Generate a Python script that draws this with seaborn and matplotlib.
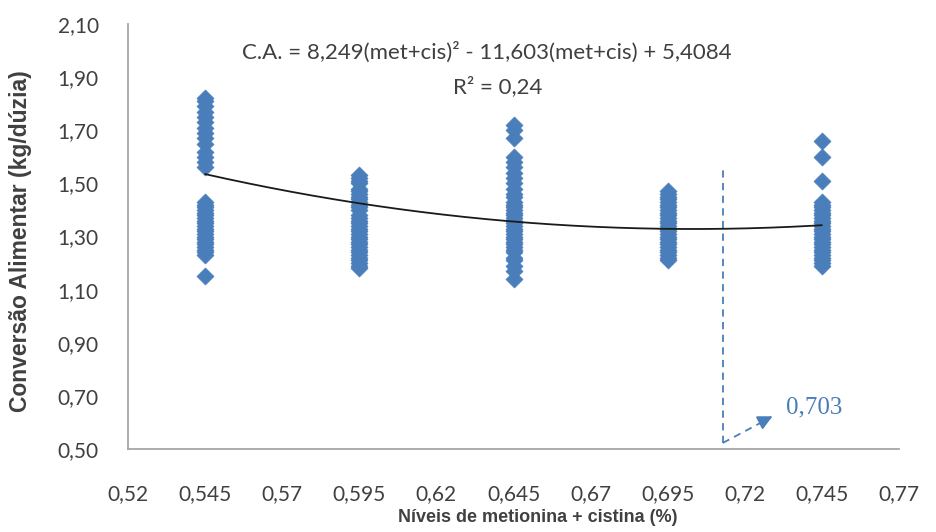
"""
Feed conversion vs. methionine + cystine levels, with quadratic trendline.
"""

import numpy as np
import pandas as pd
import matplotlib
matplotlib.use("Agg")
import matplotlib.pyplot as plt
import seaborn as sns

# data
levels = [0.545, 0.595, 0.645, 0.695, 0.745]

ca_545 = [1.82, 1.81, 1.79, 1.77, 1.75, 1.73, 1.71, 1.69, 1.67, 1.65, 1.62,
          1.60, 1.58, 1.56, 1.43, 1.42, 1.41, 1.40, 1.39, 1.38, 1.37, 1.36,
          1.35, 1.34, 1.33, 1.32, 1.31, 1.30, 1.29, 1.28, 1.27, 1.26, 1.25,
          1.24, 1.23, 1.15]
ca_595 = [1.53, 1.52, 1.51, 1.50, 1.48, 1.47, 1.46, 1.45, 1.44, 1.43, 1.42,
          1.41, 1.40, 1.38, 1.37, 1.36, 1.35, 1.34, 1.33, 1.32, 1.31, 1.30,
          1.29, 1.28, 1.27, 1.26, 1.25, 1.24, 1.23, 1.22, 1.21, 1.20, 1.19,
          1.18]
ca_645 = [1.72, 1.70, 1.67, 1.60, 1.58, 1.56, 1.54, 1.52, 1.50, 1.48, 1.46,
          1.45, 1.43, 1.42, 1.41, 1.40, 1.39, 1.38, 1.37, 1.36, 1.35, 1.34,
          1.33, 1.32, 1.31, 1.30, 1.29, 1.28, 1.27, 1.26, 1.25, 1.24, 1.22,
          1.21, 1.19, 1.17, 1.14]
ca_695 = [1.47, 1.46, 1.45, 1.44, 1.43, 1.42, 1.41, 1.40, 1.39, 1.38, 1.37,
          1.36, 1.35, 1.34, 1.33, 1.32, 1.31, 1.30, 1.29, 1.28, 1.27, 1.26,
          1.25, 1.24, 1.23, 1.22, 1.21]
ca_745 = [1.66, 1.60, 1.51, 1.43, 1.42, 1.41, 1.40, 1.39, 1.38, 1.37, 1.36,
          1.35, 1.34, 1.33, 1.32, 1.31, 1.30, 1.29, 1.28, 1.27, 1.26, 1.25,
          1.24, 1.23, 1.22, 1.21, 1.20, 1.19]

# trendline coefficients (from the equation printed on the chart)
coef_a, coef_b, coef_c = 8.249, -11.603, 5.4084
optimum_label = "0,703"

x_ticks = [0.52, 0.545, 0.57, 0.595, 0.62, 0.645, 0.67, 0.695, 0.72, 0.745, 0.77]
x_tick_labels = ["0,52", "0,545", "0,57", "0,595", "0,62", "0,645", "0,67",
                 "0,695", "0,72", "0,745", "0,77"]
y_ticks = [0.50, 0.70, 0.90, 1.10, 1.30, 1.50, 1.70, 1.90, 2.10]
y_tick_labels = ["0,50", "0,70", "0,90", "1,10", "1,30", "1,50", "1,70",
                 "1,90", "2,10"]

equation = "C.A. = 8,249(met+cis)² - 11,603(met+cis) + 5,4084"
r2_text = "R² = 0,24"

# build long table
df = pd.DataFrame({
    "nivel": np.concatenate([[lv] * len(v) for lv, v in
                             zip(levels, [ca_545, ca_595, ca_645, ca_695, ca_745])]),
    "ca": np.concatenate([ca_545, ca_595, ca_645, ca_695, ca_745]),
})

xs = np.linspace(levels[0], levels[-1], 200)
trend = pd.DataFrame({"x": xs, "y": np.polyval([coef_a, coef_b, coef_c], xs)})

sns.set_style("white")
plt.rcParams["font.family"] = ["Lato", "DejaVu Sans"]

fig = plt.figure(figsize=(9.36, 5.32), dpi=100)
ax = fig.add_axes([128 / 936, 83 / 532, 771 / 936, 425 / 532])

blue = "#4a7ebb"
sns.scatterplot(data=df, x="nivel", y="ca", marker="D", s=75, color=blue,
                edgecolor=blue, linewidth=0.5, ax=ax, zorder=3)
sns.lineplot(data=trend, x="x", y="y", color="#1a1a1a", linewidth=1.3, ax=ax,
             zorder=4)

ax.set_xlim(0.52, 0.77)
ax.set_ylim(0.50, 2.10)
ax.set_xticks(x_ticks)
ax.set_xticklabels(x_tick_labels)
ax.set_yticks(y_ticks)
ax.set_yticklabels(y_tick_labels)
ax.tick_params(axis="both", direction="out", length=5, width=1, color="#a6a6a6",
               labelsize=15, labelcolor="#404040")
ax.tick_params(axis="x", pad=20)
ax.tick_params(axis="y", pad=16)

for side in ["top", "right"]:
    ax.spines[side].set_visible(False)
for side in ["left", "bottom"]:
    ax.spines[side].set_color("#a6a6a6")
    ax.spines[side].set_linewidth(1.3)

label_font = ["Liberation Sans Narrow", "Liberation Sans"]
ax.set_xlabel("Níveis de metionina + cistina (%)", fontsize=13, fontweight="bold",
              color="#404040", family=label_font)
ax.set_ylabel("Conversão Alimentar (kg/dúzia)", fontsize=16.5, fontweight="bold",
              color="#404040", family=["Liberation Sans"])
ax.xaxis.set_label_coords(0.532, -0.14)
ax.yaxis.set_label_coords(-0.124, 0.49)

ax.text(0.465, 0.918, equation, transform=ax.transAxes, ha="center",
        va="baseline", fontsize=16, color="#404040")
ax.text(0.48, 0.838, r2_text, transform=ax.transAxes, ha="center",
        va="baseline", fontsize=16, color="#404040")

# marker of the optimum level (drawn where it sits in the original)
vline_x = 0.7129
ax.plot([vline_x, vline_x], [0.523, 1.56], linestyle=(0, (4, 3)), color=blue,
        linewidth=1.3)
ax.plot([vline_x, 0.727], [0.523, 0.61], linestyle=(0, (4, 3)), color=blue,
        linewidth=1.3)
ax.annotate("", xy=(0.7298, 0.628), xytext=(0.725, 0.60),
            arrowprops=dict(arrowstyle="-|>", color=blue, lw=1.3,
                            mutation_scale=22))
ax.text(0.7335, 0.658, optimum_label, fontsize=18, color=blue,
        family=["Liberation Serif"], va="center", ha="left")

fig.savefig("out.png", dpi=100)
